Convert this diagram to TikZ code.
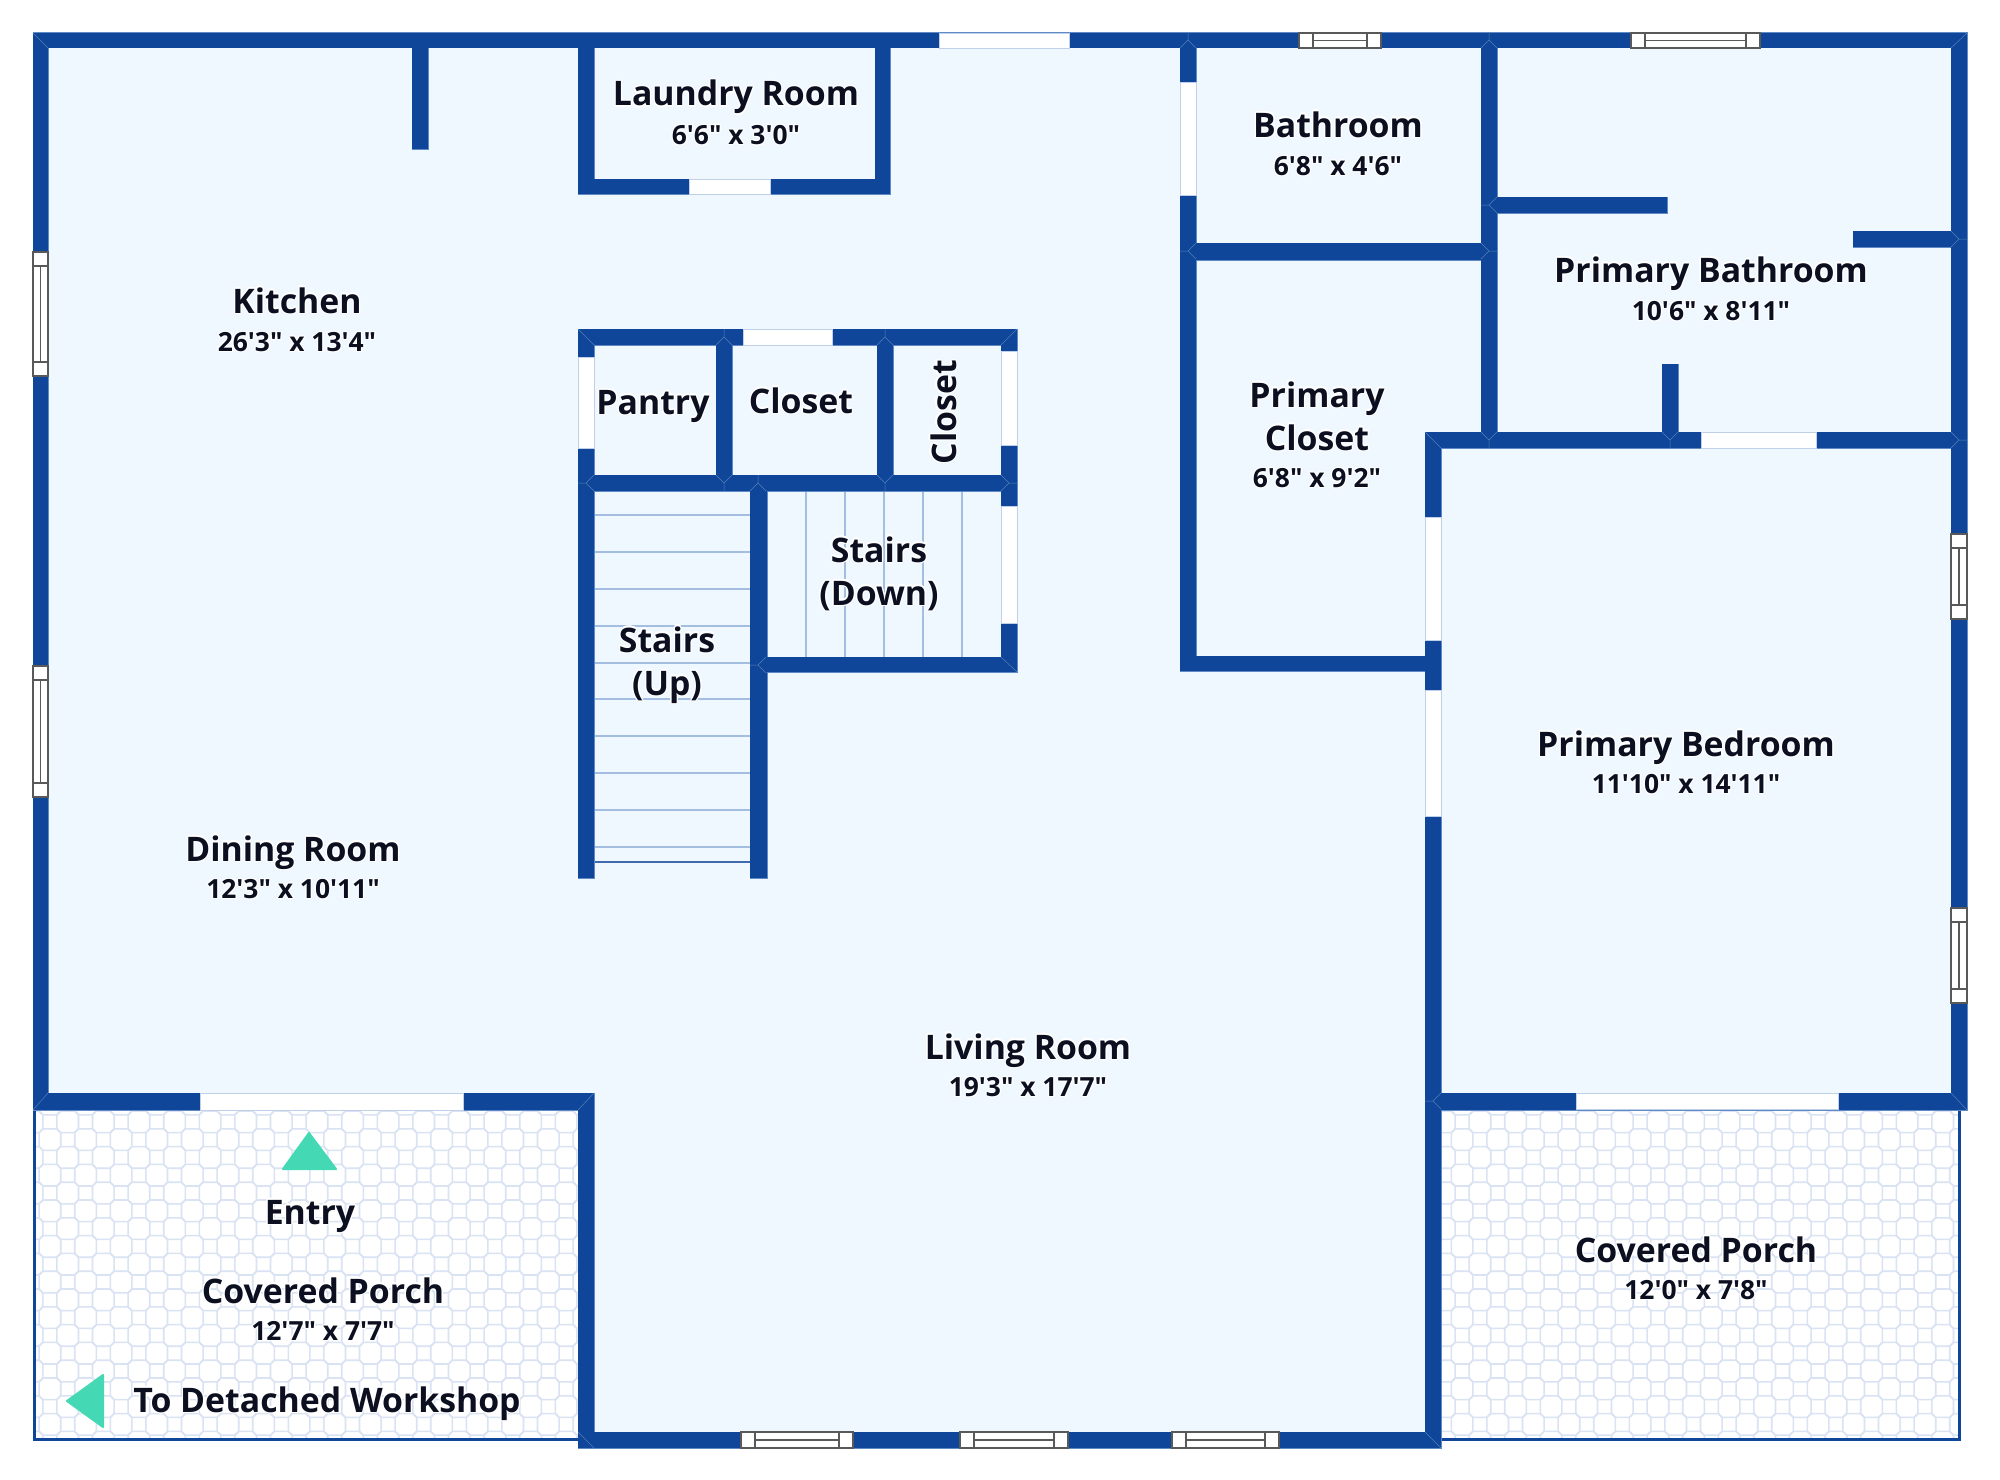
\documentclass[tikz,border=0pt]{standalone}
\usepackage{fontspec}
\usepackage[copies]{contour}
\setmainfont[Ligatures=TeXOff]{Open Sans}
\contourlength{1.2pt}
\usetikzlibrary{shapes, backgrounds}

\definecolor{wallblue}{HTML}{0F4699}
\definecolor{walledge}{HTML}{5F8AC6}
\definecolor{floorblue}{HTML}{F0F8FF}
\definecolor{tileline}{HTML}{DAE3F3}
\definecolor{gapedge}{HTML}{C0D0E8}
\definecolor{treadline}{HTML}{A3BEE0}
\definecolor{labelink}{HTML}{0B0F1F}
\definecolor{markerteal}{HTML}{45D8B5}

\tikzset{
    wall/.style={draw=walledge, line width=1pt},
    wallfill/.style={fill=wallblue},
    opening/.style={fill=white, draw=gapedge, line width=0.8pt},
    winframe/.style={fill=white, draw=black!65, line width=1.2pt},
    tread/.style={draw=treadline, line width=1.2pt},
    joint/.style={draw=wallblue!70!white, line width=0.5pt},
    tile/.style={draw=tileline, line width=1.6pt},
    room/.style={font=\fontsize{33.8}{36}\selectfont\bfseries, text=labelink, inner sep=0pt,
        text height=24pt, text depth=0pt},
    dims/.style={font=\fontsize{26.4}{28}\selectfont\bfseries, text=labelink, inner sep=0pt,
        text height=19pt, text depth=0pt},
    marker/.style={fill=markerteal, draw=markerteal, line width=2pt, line join=round}
}

% gap in a wall
\newcommand{\gaprect}[4]{\draw[opening] (#1,#2) rectangle (#3,#4);}
% windows, lying and standing
\newcommand{\winh}[4]{
    \draw[winframe] (#1,#3) rectangle (#2,#4);
    \draw[winframe] (#1+14,#3) -- (#1+14,#4) (#2-14,#3) -- (#2-14,#4);
    \draw[winframe] (#1+14,{(#3+#4)/2}) -- (#2-14,{(#3+#4)/2});
}
\newcommand{\winv}[4]{
    \draw[winframe] (#1,#3) rectangle (#2,#4);
    \draw[winframe] (#1,#3+14) -- (#2,#3+14) (#1,#4-14) -- (#2,#4-14);
    \draw[winframe] ({(#1+#2)/2},#3+14) -- ({(#1+#2)/2},#4-14);
}
% tiled porch floor, first octagon at #1,#2
\newcommand{\porchtiles}[4]{
    \foreach \i in {0,...,#3}
        \foreach \j in {0,...,#4}
            \draw[tile, shift={({#1+35.6*\i-17.8*mod(\j,2)},{#2+17.8*\j})}]
                (10.8,7) -- (7,10.8) -- (-7,10.8) -- (-10.8,7) -- (-10.8,-7)
                -- (-7,-10.8) -- (7,-10.8) -- (10.8,-7) -- cycle;
}
\newcommand{\halo}[1]{\contour{white}{#1}}

% all wall pieces, corner to corner
\newcommand{\walllist}{33/33/1967/48, 33/33/48/1110, 1951/33/1967/1110, 33/1093/594/1110,
    578/1093/594/1448, 578/1432/1441/1448, 1425/432/1441/1448, 1425/1093/1967/1110,
    1425/432/1967/448, 412/33/428/149, 578/33/594/194, 875/33/890/194, 578/179/890/194,
    578/329/1017/345, 578/329/594/878, 1001/329/1017/672, 716/345/732/475, 877/345/893/475,
    578/475/1017/491, 750/483/767/878, 758/657/1017/672, 1180/33/1196/671, 1481/33/1497/448,
    1180/243/1497/260, 1180/656/1433/671, 1489/197/1667/213, 1853/231/1959/247,
    1662/364/1678/440}

\begin{document}
\begin{tikzpicture}[x=1pt, y=-1pt]
    \useasboundingbox (0,0) rectangle (2000,1480);

    % Floors
    \fill[white] (0,0) rectangle (2000,1480);
    \fill[floorblue] (33,33) rectangle (1967,1100);
    \fill[floorblue] (580,1100) rectangle (1435,1440);

    % Porch tiles
    \begin{scope}
        \clip (36,1110) rectangle (578,1438);
        \porchtiles{14.3}{1104}{17}{19}
    \end{scope}
    \begin{scope}
        \clip (1441,1110) rectangle (1958,1438);
        \porchtiles{1462.1}{1104}{15}{19}
    \end{scope}
    \fill[wallfill] (33,1110) rectangle (36,1441);
    \fill[wallfill] (36,1438) rectangle (578,1441);
    \fill[wallfill] (1441,1438) rectangle (1961,1441);
    \fill[wallfill] (1958,1110) rectangle (1961,1438);

    % Stair treads
    \foreach \ty in {515,552,589,626,663,699,736,773,810,847}
        \draw[tread] (594,\ty) -- (750,\ty);
    \draw[wallblue!80, line width=2.5pt] (594,862) -- (750,862);
    \foreach \tx in {806,845,884,923,962}
        \draw[tread] (\tx,491) -- (\tx,657);

    % Walls, edges first and then the blue over them
    \foreach \ax/\ay/\bx/\by in \walllist
        \draw[wall] (\ax,\ay) rectangle (\bx,\by);
    \foreach \ax/\ay/\bx/\by in \walllist
        \fill[wallfill] (\ax,\ay) rectangle (\bx,\by);

    % Joints in the walls
    \foreach \ax/\ay/\bx/\by in {33/33/48/48, 1967/33/1951/48, 33/1110/48/1093,
        594/1093/578/1110, 594/1448/578/1432, 1441/1448/1425/1432, 1425/432/1441/448,
        1951/1093/1967/1110, 578/329/594/345, 1017/329/1001/345, 1017/672/1001/657}
        \draw[joint] (\ax,\ay) -- (\bx,\by);
    \foreach \jx/\jy/\jr in {1188/40/0, 1489/40/0, 1188/251/90, 1489/251/-90, 1489/205/90,
        1959/239/-90, 1489/440/180, 1670/440/180, 1959/440/-90, 1433/1101/90,
        724/337/0, 885/337/0, 586/483/90, 724/483/180, 885/483/180, 1009/483/-90,
        758/483/0, 758/665/90}
        \draw[joint, shift={(\jx,\jy)}, rotate=\jr] (0,-8) -- (0,0) (-8,8) -- (0,0) -- (8,8);

    % Openings
    \gaprect{939}{33}{1069}{48}
    \gaprect{689}{179}{770}{194}
    \gaprect{743}{329}{832}{345}
    \gaprect{578}{357}{594}{448}
    \gaprect{1001}{351}{1017}{445}
    \gaprect{1001}{506}{1017}{623}
    \gaprect{1180}{82}{1196}{195}
    \gaprect{1425}{517}{1441}{640}
    \gaprect{1425}{690}{1441}{816}
    \gaprect{1701}{432}{1816}{448}
    \gaprect{200}{1093}{463}{1110}
    \gaprect{1576}{1093}{1838}{1109}

    % Windows
    \winh{1299}{1381}{33}{48}
    \winh{1631}{1760}{33}{48}
    \winh{741}{853}{1432}{1448}
    \winh{960}{1068}{1432}{1448}
    \winh{1172}{1279}{1432}{1448}
    \winv{33}{48}{252}{376}
    \winv{33}{48}{666}{797}
    \winv{1951}{1967}{534}{619}
    \winv{1951}{1967}{908}{1003}

    % Markers
    \draw[marker] (309,1133) -- (336,1169) -- (283,1169) -- cycle;
    \draw[marker] (67,1401) -- (103,1375) -- (103,1427) -- cycle;

    % Room labels
    \node[room] (kitchen) at (297,301) {\halo{Kitchen}};
    \node[dims] (kitchensize) at (297,342) {\halo{26'3" x 13'4"}};
    \node[room] (laundry) at (736,94) {\halo{Laundry Room}};
    \node[dims] (laundrysize) at (736,135) {\halo{6'6" x 3'0"}};
    \node[room] (bath) at (1338,125) {\halo{Bathroom}};
    \node[dims] (bathsize) at (1338,166) {\halo{6'8" x 4'6"}};
    \node[room] (primbath) at (1711,270) {\halo{Primary Bathroom}};
    \node[dims] (primbathsize) at (1711,311) {\halo{10'6" x 8'11"}};
    \node[room] (pantry) at (653,402) {\halo{Pantry}};
    \node[room] (closeta) at (801,401) {\halo{Closet}};
    \node[room, rotate=90] (closetb) at (944,412) {\halo{Closet}};
    \node[room] (primclosa) at (1317,395) {\halo{Primary}};
    \node[room] (primclosb) at (1317,438) {\halo{Closet}};
    \node[dims] (primclossize) at (1317,478) {\halo{6'8" x 9'2"}};
    \node[room] (downa) at (879,550) {\halo{Stairs}};
    \node[room] (downb) at (879,593) {\halo{(Down)}};
    \node[room] (upa) at (667,640) {\halo{Stairs}};
    \node[room] (upb) at (667,683) {\halo{(Up)}};
    \node[room] (dining) at (293,849) {\halo{Dining Room}};
    \node[dims] (diningsize) at (293,889) {\halo{12'3" x 10'11"}};
    \node[room] (living) at (1028,1047) {\halo{Living Room}};
    \node[dims] (livingsize) at (1028,1087) {\halo{19'3" x 17'7"}};
    \node[room] (primbed) at (1686,744) {\halo{Primary Bedroom}};
    \node[dims] (primbedsize) at (1686,784) {\halo{11'10" x 14'11"}};

    % Porch labels
    \node[room] (entry) at (310,1212) {\halo{Entry}};
    \node[room] (porcha) at (323,1291) {\halo{Covered Porch}};
    \node[dims] (porchasize) at (323,1331) {\halo{12'7" x 7'7"}};
    \node[room] (workshop) at (327,1400) {\halo{To Detached Workshop}};
    \node[room] (porchb) at (1696,1250) {\halo{Covered Porch}};
    \node[dims] (porchbsize) at (1696,1290) {\halo{12'0" x 7'8"}};
\end{tikzpicture}
\end{document}
